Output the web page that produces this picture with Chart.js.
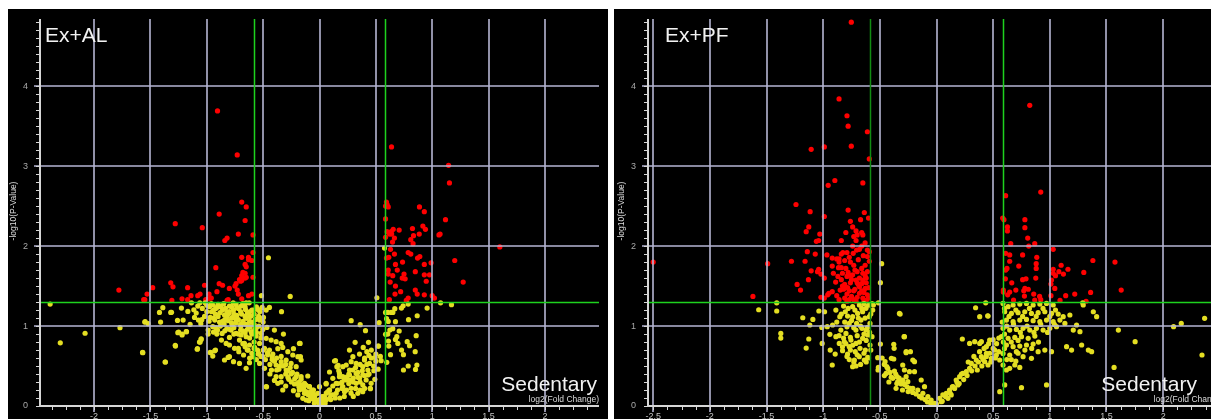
<!DOCTYPE html>
<html>
<head>
<meta charset="utf-8">
<title>Volcano plots</title>
<script src="https://cdn.jsdelivr.net/npm/chart.js@4.4.1/dist/chart.umd.min.js"></script>
<style>
  html, body { margin: 0; padding: 0; background: #fff; width: 1211px; height: 419px; overflow: hidden; }
  .panel { position: absolute; background: #000; overflow: hidden; }
  #pAL { left: 8px; top: 9px; width: 600px; height: 420px; }
  #pPF { left: 614px; top: 9px; width: 620px; height: 420px; }
  canvas { display: block; }
</style>
</head>
<body>
<div class="panel" id="pAL"><canvas id="cAL" width="600" height="420"></canvas></div>
<div class="panel" id="pPF"><canvas id="cPF" width="620" height="420"></canvas></div>
<script>
// Significance cut-offs: 1.5-fold change and p = 0.05
const FC_CUTOFF = Math.log2(1.5);
const P_CUTOFF = -Math.log10(0.05);

// ---- Ex+AL vs Sedentary : [log2 fold change, -log10 p] ----
const alNs = [
  [-2.39,1.275],[-2.30,0.79],[-2.08,0.91],[-1.77,0.98],[-1.57,0.67],[-1.37,0.55],[-1.28,0.76],[-1.55,1.05],
  [-1.52,1.03],[-1.41,1.05],[-1.39,1.23],[-1.42,1.17],[-1.32,1.17],[-0.515,1.38],[-0.26,1.37],[-0.337,1.18],
  [-0.47,0.24],[-1.25,0.925],[-1.22,0.90],[-1.18,0.93],[-1.065,0.80],[-1.05,0.84],[-1.085,0.71],[-0.97,0.67],
  [-0.93,0.69],[-0.453,1.854],[-0.624,1.29],[-0.651,1.29],[-0.766,1.29],[-1.136,1.29],[-1.062,1.29],
  [-1.015,1.29],[-1.225,1.225],[-1.313,1.171],[-1.547,1.054],[-1.26,1.07],[-1.21,1.075],[-1.168,1.183],
  [-1.115,1.204],[-1.094,1.163],[-1.109,1.108],[-1.074,1.075],[-1.148,1.021],[-1.044,1.079],[-1.053,1.029],
  [-0.976,1.242],[-0.947,1.263],[-0.911,1.233],[-0.873,1.25],[-0.834,1.221],[-0.799,1.25],[-0.763,1.20],
  [-0.734,1.233],[-0.695,1.25],[-0.657,1.208],[-0.621,1.179],[-0.586,1.20],[-0.547,1.208],[-0.509,1.233],
  [-0.473,1.20],[-0.444,1.233],[-0.958,1.179],[-0.923,1.15],[-0.882,1.167],[-0.843,1.138],[-0.805,1.158],
  [-0.769,1.108],[-0.734,1.133],[-0.692,1.15],[-0.651,1.096],[-0.606,1.125],[-0.568,1.083],[-0.532,1.075],
  [-0.497,1.108],[-0.970,1.108],[-0.929,1.075],[-0.887,1.05],[-0.846,1.025],[-0.811,1.067],[-0.775,1.013],
  [-0.740,1.042],[-0.698,1.0],[-0.657,1.025],[-0.615,0.992],[-0.574,0.958],[-0.538,1.0],[-0.503,0.958],
  [-0.467,0.983],[-0.988,0.95],[-0.947,0.992],[-0.905,0.95],[-0.864,0.908],[-0.822,0.967],[-0.784,0.95],
  [-0.740,0.908],[-0.695,0.888],[-0.651,0.867],[-0.606,0.929],[-0.562,0.875],[-0.518,0.908],[-0.473,0.846],
  [-0.429,0.825],[-0.385,0.804],[-0.340,0.783],[-0.400,0.95],[-0.320,0.90],[-0.710,0.825],[-0.666,0.783],
  [-0.621,0.763],[-0.577,0.733],[-0.532,0.783],[-0.488,0.721],[-0.444,0.70],[-0.799,0.763],[-0.754,0.721],
  [-0.716,0.679],[-0.674,0.638],[-0.633,0.70],[-0.592,0.617],[-0.544,0.65],[-0.503,0.617],[-0.461,0.667],
  [-0.414,0.65],[-0.370,0.717],[-0.326,0.733],[-0.281,0.679],[-0.237,0.638],[-0.192,0.617],[-0.172,0.783],
  [-0.231,0.717],[-0.296,0.575],[-0.252,0.533],[-0.207,0.492],[-0.163,0.575],[-0.340,0.554],[-0.385,0.513],
  [-0.296,0.45],[-0.252,0.40],[-0.207,0.367],[-0.163,0.333],[-0.133,0.283],[-0.089,0.242],[-0.053,0.20],
  [-0.015,0.158],[0.024,0.117],[0.059,0.075],[-0.118,0.158],[-0.074,0.096],[-0.030,0.054],[0.015,0.033],
  [0.059,0.275],[0.074,0.179],[-0.183,0.242],[-0.148,0.208],[-0.104,0.375],[-0.222,0.275],[-0.340,0.367],
  [-0.370,0.283],[-0.326,0.20],[-0.473,0.242],[-0.532,0.533],[-0.651,0.471],[-0.710,0.533],[-0.799,0.617],
  [-0.843,0.575],[-0.923,0.70],[-0.947,0.625],[-0.964,0.667],[-1.083,0.717],[-1.278,0.75],[-1.367,0.55],
  [-1.568,0.667],[-0.811,0.608],[-0.763,0.554],[-0.621,0.542],[-0.488,0.471],[-0.426,0.45],[-0.385,0.367],
  [-0.272,0.333],[-0.231,0.192],[-0.192,0.138],[-0.148,0.096],[-0.095,0.067],[-0.045,0.033],[0.0,0.013],
  [-1.257,0.917],[-1.219,0.888],[-1.183,0.929],[-1.050,0.833],[-1.059,0.80],[-0.988,0.90],[-0.941,0.925],
  [-0.911,0.90],[-0.870,0.825],[-0.828,0.783],[-0.799,0.858],
  [-0.90,1.27],[-0.86,1.20],[-0.80,1.18],[-0.74,1.27],[-0.70,1.18],[-0.66,1.24],[-0.62,1.12],[-0.58,1.15],
  [-0.72,1.08],[-0.78,1.10],[-0.84,1.08],[-0.92,1.22],[-0.96,1.28],[-1.0,1.18],[-0.68,1.06],[-0.64,1.02],
  [-0.60,1.05],[-0.56,0.98],[-0.70,0.95],[-0.76,0.90],[-0.66,0.92],[-0.62,0.85],[-0.58,0.80],[-0.68,0.78],
  [-0.72,0.72],[-0.64,0.70],[-0.60,0.66],[-0.55,0.70],[-0.52,0.62],
  [-1.08,1.25],[-1.04,1.22],[-1.00,1.26],[-0.94,1.20],[-0.88,1.24],[-0.85,1.28],[-0.82,1.17],[-0.78,1.24],
  [-0.76,1.15],[-0.72,1.22],[-0.68,1.28],[-0.64,1.16],[-0.60,1.20],[-0.56,1.24],[-0.53,1.18],[-1.02,1.12],
  [-0.98,1.06],[-0.94,1.10],[-0.90,1.12],[-0.86,1.06],[-0.82,1.12],[-0.78,1.04],[-0.74,1.08],[-0.70,1.02],
  [-0.66,1.12],[-0.62,1.06],[-0.58,1.02],[-0.54,1.12],[-0.50,1.05],[-0.92,0.98],[-0.88,1.0],[-0.84,0.94],
  [-0.80,0.96],[-0.76,0.98],[-0.72,0.90],[-0.68,0.94],[-0.64,0.96],[-0.60,0.90],[-0.56,0.92],[-0.52,0.85],
  [-0.66,0.74],[-0.62,0.60],[-0.58,0.72],[-0.56,0.58],[-0.54,0.66],[-0.50,0.70],[-0.48,0.58],[-0.46,0.64],
  [-0.44,0.52],[-0.42,0.62],[-0.40,0.56],[-0.38,0.60],[-0.36,0.46],[-0.34,0.62],[-0.32,0.50],[-0.30,0.52],
  [-0.28,0.44],[-0.26,0.48],[-0.24,0.42],[-0.22,0.34],[-0.20,0.40],[-0.18,0.30],[-0.16,0.26],[-0.14,0.22],
  [-0.12,0.26],[-0.10,0.14],[-0.08,0.18],[-0.06,0.10],[-0.04,0.14],[-0.02,0.06],[0.0,0.08],[0.02,0.02],
  [-0.44,0.40],[-0.40,0.32],[-0.34,0.30],[-0.30,0.25],
  [-0.42,0.58],[-0.38,0.45],[-0.35,0.50],[-0.30,0.40],[-0.28,0.36],[-0.25,0.30],[-0.20,0.28],[-0.18,0.20],
  [-0.12,0.18],[-0.08,0.12],[-0.05,0.08],[0.05,0.03],[0.10,0.08],[0.12,0.14],[0.16,0.20],[0.20,0.30],
  [0.24,0.36],[0.30,0.35],[0.34,0.42],[0.36,0.52],[0.40,0.60],[0.42,0.68],[0.46,0.70],[0.50,0.65],
  [0.26,0.28],[0.32,0.22],[0.22,0.12],[0.18,0.10],[0.28,0.16],
  [0.04,0.10],[0.06,0.16],[0.10,0.14],[0.14,0.10],[0.16,0.28],[0.20,0.22],[0.22,0.34],[0.24,0.20],
  [0.26,0.40],[0.30,0.30],[0.32,0.48],[0.34,0.36],[0.36,0.30],[0.38,0.44],[0.40,0.38],[0.42,0.52],
  [0.44,0.40],[0.46,0.60],[0.48,0.50],[0.50,0.56],[0.52,0.46],[0.54,0.62],[0.40,0.22],[0.36,0.20],[0.30,0.12],
  [0.577,1.975],[0.509,1.354],[1.074,1.29],[1.171,1.267],[0.955,1.225],[0.727,1.225],[0.668,1.217],
  [0.742,1.254],[0.586,1.17],[0.606,1.17],[0.636,1.17],[0.651,1.17],[0.787,1.275],[0.867,1.129],[0.790,1.079],
  [0.674,1.054],[0.61,1.058],[0.595,1.092],[0.529,1.042],[0.281,1.067],[0.361,1.017],[0.408,0.942],
  [0.624,0.95],[0.65,0.967],[0.606,0.90],[0.586,0.896],[0.707,0.938],[0.858,0.879],[0.778,0.804],[0.799,0.754],
  [0.686,0.867],[0.674,0.833],[0.695,0.783],[0.612,0.813],[0.615,0.75],[0.524,0.75],[0.435,0.796],[0.316,0.796],
  [0.388,0.733],[0.728,0.70],[0.745,0.642],[0.630,0.642],[0.597,0.546],[0.849,0.679],[0.787,0.50],[0.745,0.45],
  [0.494,0.608],[0.547,0.567],[0.266,0.70],[0.142,0.567],[0.166,0.508],[0.089,0.425],[0.452,0.217],[0.491,0.333],
  [0.482,0.442],[0.296,0.617],[0.355,0.65],[0.399,0.575],[0.438,0.633],[0.325,0.533],[0.384,0.492],[0.444,0.533],
  [0.266,0.45],[0.325,0.408],[0.384,0.388],[0.429,0.45],[0.207,0.367],[0.266,0.325],[0.325,0.283],[0.384,0.263],
  [0.148,0.283],[0.207,0.242],[0.089,0.20],[0.148,0.158],[0.030,0.117],[0.089,0.096],[-0.030,0.075],[0.030,0.054],
  [-0.059,0.158],[0.0,0.242],[0.059,0.283],[0.118,0.346],[0.177,0.408],[0.237,0.513],[0.281,0.554],[0.355,0.346],
  [0.414,0.325],[0.458,0.283],[-0.089,0.242],[-0.044,0.117],[0.222,0.179],[0.281,0.221],[0.340,0.158],
  [0.384,0.179],[0.429,0.388],[0.52,0.75],[0.852,0.458],[0.864,0.513],[0.133,0.563],[0.154,0.492],[0.171,0.442],
  [0.45,0.221],[-0.178,0.783],[-0.169,0.617],[-0.163,0.367],[-0.133,0.158],[-0.059,0.20],[0.044,0.117],
  [-0.118,0.075],[0.015,0.067],[0.089,0.20],[0.118,0.25],[0.177,0.367],[0.192,0.283],[0.237,0.325],[0.266,0.388],
  [0.296,0.45],[0.207,0.492]
];
const alDown = [
  [-0.905,3.69],[-0.73,3.14],[-0.69,2.55],[-0.65,2.49],[-0.89,2.40],[-1.28,2.28],[-1.04,2.23],[-0.66,2.32],
  [-0.72,2.15],[-0.59,2.14],[-0.82,2.10],[-0.84,2.07],[-0.59,1.92],[-0.69,1.86],[-0.63,1.86],[-0.63,1.83],
  [-0.60,1.82],[-0.66,1.77],[-0.65,1.74],[-0.92,1.73],[-0.68,1.67],[-0.66,1.66],[-0.69,1.63],[-0.65,1.61],
  [-0.66,1.60],[-0.69,1.57],[-0.59,1.61],[-0.71,1.58],[-1.32,1.54],[-1.30,1.49],[-1.48,1.48],[-1.53,1.40],
  [-1.55,1.33],[-1.78,1.45],[-1.17,1.48],[-1.02,1.51],[-0.89,1.53],[-0.86,1.51],[-0.80,1.47],[-0.91,1.43],
  [-0.75,1.50],[-0.74,1.53],[-0.73,1.45],[-0.72,1.40],[-1.06,1.40],[-1.08,1.38],[-1.14,1.38],[-0.98,1.40],
  [-0.97,1.35],[-0.99,1.34],[-1.22,1.34],[-1.31,1.32],[-1.17,1.33],[-1.01,1.33],[-0.82,1.32],[-0.81,1.33],
  [-0.69,1.34],[-0.63,1.38],[-0.60,1.40],[-0.96,1.35],[-1.56,1.33],[-0.70,1.56]
];
const alUp = [
  [0.639,3.24],[1.145,3.01],[1.153,2.79],[0.594,2.55],[0.586,2.50],[0.61,2.49],[0.60,2.52],[0.887,2.49],
  [0.93,2.43],[0.586,2.34],[1.118,2.33],[0.825,2.22],[0.707,2.20],[0.654,2.21],[0.636,2.18],[0.917,2.25],
  [0.94,2.21],[0.60,2.18],[0.62,2.15],[0.64,2.15],[0.885,2.15],[1.06,2.14],[1.07,2.15],[0.834,2.13],
  [0.81,2.08],[0.83,2.03],[0.586,2.11],[0.665,2.10],[0.648,2.05],[0.63,1.96],[0.594,1.85],[0.615,1.86],
  [0.665,1.90],[0.787,1.92],[0.81,1.90],[0.87,1.85],[0.89,1.87],[0.737,1.80],[1.60,1.99],[1.20,1.82],
  [0.99,1.79],[0.93,1.77],[0.674,1.77],[0.61,1.70],[0.61,1.65],[0.69,1.70],[0.65,1.63],[0.75,1.65],
  [0.76,1.59],[0.734,1.60],[0.85,1.68],[0.93,1.64],[0.976,1.64],[0.627,1.55],[0.674,1.50],[0.947,1.56],
  [1.275,1.55],[0.85,1.45],[0.72,1.43],[0.67,1.40],[0.867,1.40],[0.93,1.39],[0.787,1.35],[0.77,1.32],
  [0.62,1.33],[1.0,1.38],[1.02,1.35]
];

// ---- Ex+PF vs Sedentary ----
const pfNs = [
  [-1.41,1.29],[-1.569,1.204],[-1.41,1.188],[-1.374,0.908],[-1.374,0.85],[-1.127,0.838],[-1.15,0.725],
  [-1.18,1.104],[-1.118,1.013],[-1.091,1.083],[-1.038,1.188],[-0.988,1.179],[-1.012,0.983],[-1.009,0.783],
  [-0.938,0.70],[-0.92,0.513],[-0.894,0.65],[-0.829,0.692],[-0.74,0.492],[-0.941,0.896],[-0.888,0.867],
  [-0.964,0.992],[-0.917,1.013],[-0.888,1.20],[-0.853,1.117],[-0.805,1.179],
  [-0.799,0.908],[-0.814,0.804],[-0.770,0.742],[-0.717,0.679],[-0.681,0.617],[-0.637,0.575],[-0.607,0.608],
  [-0.711,0.783],[-0.652,0.846],[-0.622,0.95],[-0.587,1.033],[-0.666,1.075],[-0.740,1.117],[-0.770,1.033],
  [-0.711,0.95],[-0.740,1.242],[-0.681,1.263],[-0.622,1.221],[-0.563,1.20],[-0.593,1.117],[-0.652,1.179],
  [-0.696,1.158],[-0.785,1.125],[-0.844,0.95],[-0.858,0.783],[-0.785,0.65],[-0.755,0.825],[-0.725,0.575],
  [-0.675,0.721],[-0.628,0.70],[-0.587,0.763],[-0.569,0.867],[-0.607,0.888],[-0.658,0.971],[-0.705,1.033],
  [-0.82,1.25],[-0.78,1.22],[-0.72,1.20],[-0.66,1.22],[-0.60,1.26],[-0.58,1.15],[-0.63,1.10],[-0.69,1.10],
  [-0.75,1.07],[-0.81,1.05],[-0.84,1.15],[-0.79,0.99],[-0.73,0.98],[-0.67,1.00],[-0.61,0.98],[-0.59,0.92],
  [-0.64,0.90],[-0.70,0.88],[-0.76,0.86],[-0.82,0.85],[-0.80,0.78],[-0.74,0.76],[-0.68,0.80],[-0.62,0.82],
  [-0.58,0.70],[-0.64,0.66],[-0.70,0.64],[-0.76,0.70],[-0.79,0.62],[-0.73,0.55],[-0.67,0.52],[-0.62,0.55],
  [-0.60,0.60],[-0.71,0.50],[-0.77,0.58],[-0.83,0.74],[-0.86,0.88],[-0.88,1.05],[-0.57,1.28],[-0.64,1.28],
  [-0.495,1.542],[-0.484,1.78],[-0.513,1.29],[-0.557,1.263],[-0.321,1.15],[-0.286,0.867],[-0.495,0.775],
  [-0.519,0.604],[-0.513,0.483],[-0.516,0.45],[-0.377,0.771],[-0.374,0.721],[-0.268,0.667],[-0.454,0.554],
  [-0.439,0.492],[-0.445,0.408],[-0.398,0.596],[-0.377,0.588],[-0.371,0.438],[-0.348,0.367],[-0.386,0.346],
  [-0.342,0.304],[-0.312,0.275],[-0.357,0.221],[-0.298,0.325],
  [-0.48,0.60],[-0.46,0.52],[-0.43,0.47],[-0.41,0.42],[-0.40,0.36],[-0.36,0.40],[-0.33,0.35],[-0.31,0.31],
  [-0.28,0.27],[-0.26,0.24],[-0.23,0.22],[-0.21,0.17],[-0.18,0.15],[-0.15,0.12],[-0.13,0.10],[-0.10,0.08],
  [-0.08,0.05],[-0.05,0.03],[-0.03,0.02],[-0.35,0.28],[-0.30,0.20],[-0.25,0.18],[-0.42,0.30],[-0.46,0.38],
  [-0.327,1.158],[-0.283,0.867],[-0.268,0.679],[-0.230,0.679],[-0.209,0.575],[-0.194,0.554],[-0.298,0.513],
  [-0.283,0.45],[-0.239,0.429],[-0.194,0.429],[-0.268,0.367],[-0.298,0.283],[-0.253,0.304],[-0.209,0.221],
  [-0.165,0.20],[-0.135,0.325],[-0.106,0.242],[-0.120,0.158],[-0.076,0.117],[-0.047,0.075],[-0.017,0.033],
  [0.0,0.025],[0.027,0.096],[0.056,0.138],[0.086,0.158],[0.115,0.20],[0.145,0.242],[0.174,0.325],[0.204,0.367],
  [0.233,0.408],[0.263,0.429],[0.292,0.471],[0.189,0.263],[0.130,0.138],[0.101,0.096],[0.042,0.054],
  [0.05,0.06],[0.08,0.12],[0.12,0.16],[0.16,0.22],[0.20,0.28],[0.24,0.33],[0.27,0.38],[0.31,0.44],
  [0.34,0.50],[0.37,0.55],[0.41,0.58],[0.44,0.62],[0.47,0.66],[0.50,0.72],[0.53,0.78],[0.55,0.85],
  [0.22,0.40],[0.28,0.55],[0.33,0.62],[0.38,0.68],[0.42,0.72],[0.46,0.78],[0.50,0.83],[0.18,0.30],
  [0.14,0.24],[0.36,0.45],[0.40,0.50],[0.48,0.55],[0.52,0.60],[0.55,0.68],
  [0.307,0.533],[0.351,0.575],[0.396,0.617],[0.425,0.554],[0.455,0.513],[0.484,0.596],[0.440,0.658],
  [0.381,0.783],[0.396,0.804],[0.292,0.783],[0.337,0.804],[0.440,0.742],[0.469,0.825],[0.514,0.70],
  [0.528,0.638],[0.558,0.575],[0.228,0.838],[0.381,1.117],[0.455,1.125],[0.434,1.29],[0.558,0.179],
  [0.602,0.263],[0.750,0.229],[0.587,0.513],[0.617,0.45],[0.646,0.471],[0.691,0.513],[0.735,0.483],
  [0.587,1.283],[0.632,1.242],[0.676,1.263],[0.735,1.275],[0.794,1.283],[0.853,1.263],[0.912,1.275],
  [0.971,1.283],[1.030,1.263],[0.602,1.179],[0.661,1.158],[0.720,1.167],[0.779,1.179],[0.838,1.158],
  [0.897,1.167],[0.956,1.179],[1.015,1.158],[1.074,1.15],[0.617,1.075],[0.676,1.054],[0.735,1.075],
  [0.794,1.083],[0.853,1.067],[0.912,1.054],[0.971,1.075],[1.030,1.054],[1.089,1.075],[0.587,0.971],
  [0.646,0.95],[0.705,0.958],[0.764,0.971],[0.823,0.95],[0.882,0.971],[0.941,0.95],[1.0,0.971],[1.059,0.992],
  [0.573,0.867],[0.632,0.846],[0.691,0.858],[0.750,0.867],[0.809,0.846],[0.868,0.875],[0.617,0.763],
  [0.676,0.742],[0.735,0.75],[0.794,0.763],[0.853,0.775],[0.587,0.658],[0.646,0.638],[0.705,0.679],
  [0.764,0.617],[0.838,0.596],[0.897,0.679],[0.956,0.70],[1.015,0.679],
  [0.60,1.22],[0.64,1.12],[0.70,1.20],[0.76,1.12],[0.82,1.22],[0.88,1.12],[0.94,1.22],[1.00,1.12],
  [1.05,1.20],[0.62,1.00],[0.68,1.02],[0.74,0.92],[0.80,1.00],[0.86,0.92],[0.92,1.02],[0.98,0.92],
  [1.04,1.02],[0.60,0.90],[0.66,0.80],[0.72,0.82],[0.78,0.70],[0.84,0.72],[0.90,0.80],[0.60,0.72],
  [0.66,0.58],[0.72,0.66],[0.62,0.58],[0.70,0.56],[0.58,1.05],[0.59,0.80],
  [1.118,1.117],[1.177,1.138],[1.133,1.033],[1.207,0.95],[1.266,0.929],[1.148,0.742],[1.192,0.70],
  [1.281,0.763],[1.340,0.70],[1.369,0.679],[1.236,1.013],[1.384,1.179],[1.413,1.117],[1.295,1.263],
  [1.290,1.29],[1.605,0.95],[1.753,0.804],[2.092,0.992],[2.160,1.033],[2.366,1.096],[2.343,0.638],
  [1.567,0.483],[0.971,0.263],[0.345,1.229],[0.452,1.129]
];
const pfDown = [
  [-0.752,4.80],[-0.86,3.84],[-0.79,3.63],[-0.78,3.50],[-0.61,3.43],[-1.106,3.21],[-0.99,3.24],[-0.752,3.25],
  [-0.593,3.09],[-0.897,2.82],[-0.956,2.76],[-0.65,2.79],[-1.24,2.52],[-1.115,2.43],[-0.99,2.37],[-0.78,2.45],
  [-0.637,2.42],[-0.60,2.35],[-0.67,2.33],[-0.76,2.31],[-1.127,2.24],[-1.15,2.18],[-1.03,2.15],[-1.04,2.07],
  [-1.06,2.06],[-0.84,2.07],[-0.74,2.24],[-0.80,2.17],[-0.71,2.19],[-0.66,2.17],[-0.70,2.14],[-0.65,2.14],
  [-0.73,2.12],[-0.71,2.07],[-0.63,2.04],[-0.74,2.0],[-0.66,2.0],[-0.68,1.96],[-0.705,1.95],[-0.735,1.91],
  [-0.646,1.88],[-0.61,1.95],[-0.61,1.87],[-0.593,1.93],[-0.593,1.81],[-1.14,1.93],[-1.07,1.90],[-0.967,1.89],
  [-1.28,1.81],[-1.16,1.81],[-1.49,1.78],[-0.92,1.85],[-0.88,1.84],[-0.84,1.90],[-0.826,1.92],[-0.79,1.92],
  [-0.77,1.86],[-0.81,1.82],[-0.86,1.84],[-0.86,1.80],[-0.73,1.76],[-0.92,1.75],[-0.865,1.73],[-0.84,1.73],
  [-0.80,1.72],[-1.106,1.69],[-1.04,1.71],[-1.05,1.68],[-1.02,1.65],[-0.91,1.66],[-0.83,1.66],[-0.70,1.68],
  [-0.65,1.66],[-0.61,1.68],[-0.63,1.63],[-0.755,1.63],[-1.13,1.58],[-0.99,1.60],[-0.84,1.58],[-0.79,1.62],
  [-0.74,1.64],[-0.71,1.575],[-0.65,1.575],[-0.62,1.54],[-0.66,1.53],[-0.70,1.54],[-0.76,1.54],[-1.23,1.52],
  [-1.20,1.45],[-0.81,1.52],[-0.785,1.48],[-0.82,1.46],[-0.77,1.44],[-0.73,1.44],[-0.68,1.49],[-0.63,1.47],
  [-0.60,1.48],[-0.68,1.41],[-0.64,1.42],[-0.61,1.39],[-0.95,1.41],[-0.92,1.43],[-0.96,1.39],[-1.02,1.36],
  [-0.99,1.35],[-0.86,1.33],[-0.81,1.35],[-0.77,1.33],[-0.73,1.33],[-0.70,1.36],[-0.65,1.35],[-0.60,1.35],
  [-0.62,1.32],[-1.62,1.37],[-2.50,1.80],
  [-0.75,1.37],[-0.79,1.40],[-0.72,1.46],[-0.66,1.44],[-0.83,1.50],[-0.69,1.52],[-0.75,1.58],[-0.68,1.60],
  [-0.62,1.60],[-0.72,1.70],[-0.66,1.72],[-0.76,1.80],[-0.69,1.83],[-0.63,1.76],[-0.78,1.67],[-0.87,1.62],
  [-0.89,1.55],[-0.85,1.45],[-0.88,1.38],[-0.64,1.31],[-0.71,1.31],[-0.79,1.31]
];
const pfUp = [
  [0.823,3.76],[0.92,2.675],[0.61,2.63],[0.584,2.35],[0.595,2.33],[0.78,2.33],[0.78,2.23],[0.626,2.24],
  [0.626,2.19],[0.805,2.10],[0.655,2.03],[0.814,2.0],[0.867,2.03],[1.03,1.96],[0.61,1.91],[0.646,1.89],
  [0.76,1.89],[0.885,1.86],[1.38,1.82],[1.575,1.80],[0.646,1.81],[0.726,1.75],[0.88,1.78],[0.88,1.72],
  [0.61,1.70],[0.622,1.72],[1.03,1.71],[1.10,1.76],[1.16,1.71],[1.08,1.68],[1.12,1.65],[1.05,1.63],
  [1.03,1.66],[1.30,1.67],[0.608,1.59],[0.664,1.54],[0.76,1.58],[0.79,1.59],[0.876,1.60],[1.015,1.575],
  [1.01,1.525],[1.044,1.47],[0.59,1.45],[0.59,1.425],[0.646,1.425],[0.70,1.45],[0.78,1.47],[0.81,1.46],
  [0.77,1.44],[0.628,1.39],[0.858,1.40],[0.776,1.375],[0.91,1.37],[0.92,1.33],[1.01,1.38],[1.14,1.38],
  [1.22,1.40],[1.36,1.42],[0.68,1.325],[0.867,1.325],[1.09,1.32],[1.32,1.31],[1.63,1.45]
];

// Axis ranges and tick spacing
const Y_MAX = 4.84;
const X_MAJOR = 0.5, X_MINOR = 0.125, Y_MAJOR = 1, Y_MINOR = 0.1;

const YELLOW = 'rgb(228,222,34)';
const RED = 'rgb(255,0,0)';
const GRID = 'rgb(182,182,212)';
const AXIS = 'rgb(214,214,214)';
const FONT = '"Liberation Sans", Arial, sans-serif';
const DOT = 2.6;

const toPts = arr => arr.map(([x, y]) => ({ x, y }));
const fmt = v => String(Math.round(v * 100) / 100);

// Grid, cut-off lines, axes with their ticks and labels, and the panel captions
const volcanoOverlay = {
  id: 'volcanoOverlay',
  afterDatasetsDraw(chart, args, o) {
    const { ctx, chartArea: { left, right, top, bottom }, scales: { x, y } } = chart;
    const line = (x1, y1, x2, y2) => { ctx.beginPath(); ctx.moveTo(x1, y1); ctx.lineTo(x2, y2); ctx.stroke(); };
    ctx.save();

    // grid
    ctx.strokeStyle = GRID; ctx.lineWidth = 1.6;
    x.ticks.forEach(t => {
      const px = Math.round(x.getPixelForValue(t.value));
      line(px, top, px, bottom + 6);
    });
    y.ticks.forEach(t => {
      if (t.value <= 0) return;
      const py = Math.round(y.getPixelForValue(t.value));
      line(left - 6, py, right, py);
    });

    // cut-off lines
    ctx.lineWidth = 1.5;
    ctx.strokeStyle = o.greenLeft;
    let gx = Math.round(x.getPixelForValue(-FC_CUTOFF)) + 0.5;
    line(gx, top, gx, bottom);
    ctx.strokeStyle = o.green;
    gx = Math.round(x.getPixelForValue(FC_CUTOFF)) + 0.5;
    line(gx, top, gx, bottom);
    const gy = Math.round(y.getPixelForValue(P_CUTOFF)) + 0.5;
    line(left, gy, right, gy);

    // axes and minor ticks
    ctx.strokeStyle = AXIS; ctx.lineWidth = 2;
    line(left, top, left, bottom);
    line(left, bottom, right, bottom);
    ctx.lineWidth = 1;
    for (let k = 0; k * Y_MINOR <= y.max + 1e-9; k++) {
      const py = Math.round(y.getPixelForValue(k * Y_MINOR)) + 0.5;
      line(left - 4, py, left, py);
    }
    for (let k = Math.ceil(x.min / X_MINOR); k * X_MINOR <= x.max; k++) {
      const px = Math.round(x.getPixelForValue(k * X_MINOR)) + 0.5;
      line(px, bottom, px, bottom + 4);
    }

    // tick labels
    ctx.font = '9px ' + FONT;
    ctx.fillStyle = '#c4c4c4';
    ctx.textAlign = 'center';
    ctx.textBaseline = 'top';
    x.ticks.forEach(t => ctx.fillText(fmt(t.value), x.getPixelForValue(t.value), bottom + 6));
    ctx.fillStyle = '#a8a8a8';
    ctx.textAlign = 'right';
    ctx.textBaseline = 'middle';
    y.ticks.forEach(t => ctx.fillText(fmt(t.value), left - 12, y.getPixelForValue(t.value)));

    // captions
    ctx.fillStyle = '#f2f2f2';
    ctx.textBaseline = 'alphabetic';
    ctx.font = '21px ' + FONT;
    ctx.textAlign = 'left';
    ctx.fillText(o.title, left + o.titleInset, top + 23);
    ctx.textAlign = 'right';
    ctx.fillText(o.group, right - o.groupInset, bottom - 15);
    ctx.font = '8.5px ' + FONT;
    ctx.fillStyle = '#dcdcdc';
    ctx.fillText(o.xTitle, right - o.xTitleInset, bottom - 4);

    ctx.translate(o.yTitleX, 202);
    ctx.rotate(-Math.PI / 2);
    ctx.textAlign = 'center';
    ctx.textBaseline = 'middle';
    ctx.fillText(o.yTitle, 0, 0);
    ctx.restore();
  }
};

function volcano(canvasId, ns, down, up, p) {
  return new Chart(document.getElementById(canvasId), {
    type: 'scatter',
    data: {
      datasets: [
        { label: 'n.s.', data: toPts(ns), pointBackgroundColor: YELLOW, pointRadius: DOT, pointBorderWidth: 0, pointHoverRadius: DOT },
        { label: 'significant', data: toPts(down.concat(up)), pointBackgroundColor: RED, pointRadius: DOT, pointBorderWidth: 0, pointHoverRadius: DOT }
      ]
    },
    options: {
      responsive: false,
      animation: false,
      devicePixelRatio: 1,
      events: [],
      layout: { padding: { top: 10, right: p.padRight, left: 0, bottom: 0 } },
      plugins: {
        legend: { display: false },
        tooltip: { enabled: false },
        volcanoOverlay: {
          title: p.title, titleInset: p.titleInset, group: 'Sedentary', groupInset: p.groupInset,
          xTitle: 'log2(Fold Change)', xTitleInset: p.xTitleInset, yTitle: '-log10(P-Value)', yTitleX: p.yTitleX,
          green: p.green, greenLeft: p.greenLeft
        }
      },
      scales: {
        x: {
          type: 'linear', min: -p.xLim, max: p.xLim,
          afterFit(s) { s.height = 23; s.paddingLeft = 0; s.paddingRight = 0; },
          grid: { display: false }, border: { display: false },
          ticks: { display: false, stepSize: X_MAJOR, includeBounds: false, autoSkip: false }
        },
        y: {
          type: 'linear', min: 0, max: Y_MAX,
          afterFit(s) { s.width = p.axisW; s.paddingTop = 0; s.paddingBottom = 0; },
          grid: { display: false }, border: { display: false },
          ticks: { display: false, stepSize: Y_MAJOR, includeBounds: false, autoSkip: false }
        }
      }
    },
    plugins: [volcanoOverlay]
  });
}

volcano('cAL', alNs, alDown, alUp, {
  title: 'Ex+AL', xLim: 2.48, axisW: 32, padRight: 9, titleInset: 5, groupInset: 2, xTitleInset: 0,
  yTitleX: 6, green: '#1ed21e', greenLeft: '#1ed21e'
});
volcano('cPF', pfNs, pfDown, pfUp, {
  title: 'Ex+PF', xLim: 2.546, axisW: 34, padRight: 9, titleInset: 17, groupInset: 28, xTitleInset: 1,
  yTitleX: 8, green: '#1ed21e', greenLeft: '#128c12'
});
</script>
</body>
</html>
